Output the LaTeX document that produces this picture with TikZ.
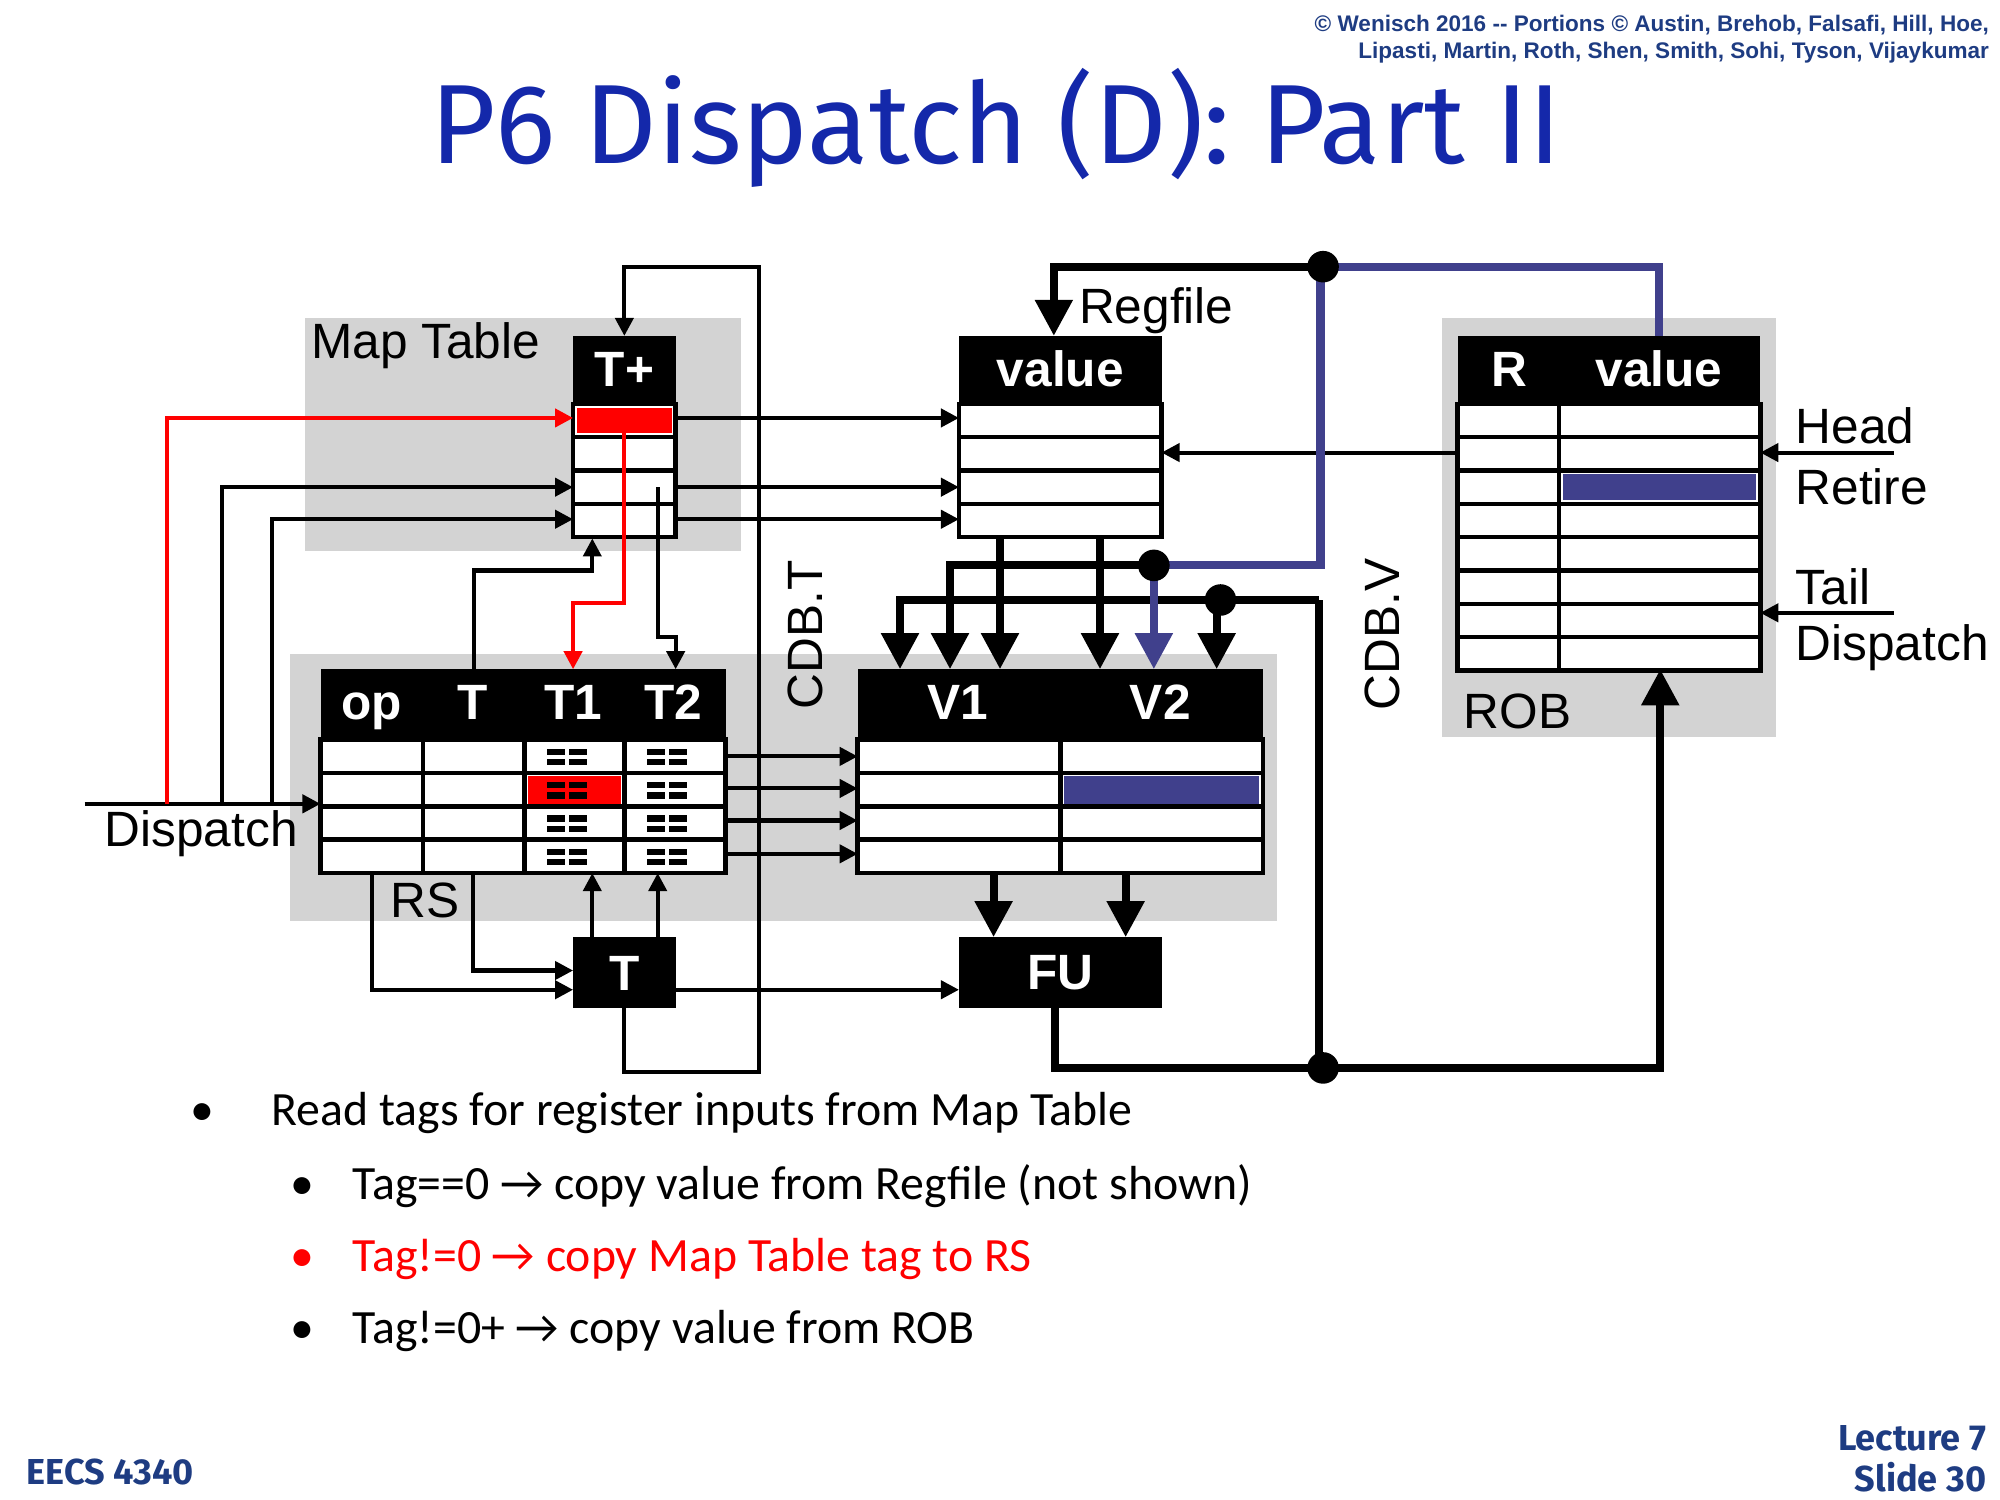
\documentclass[tikz,border=0pt]{standalone}
\usepackage{fontspec}
\setmainfont{Liberation Sans}
\newfontfamily\calfnt{Carlito}
\newfontfamily\ttlfnt{Fira Sans}
\usetikzlibrary{arrows.meta}
\definecolor{gr}{RGB}{211,211,211}
\definecolor{bl}{RGB}{64,64,140}
\definecolor{tb}{RGB}{20,40,170}
\definecolor{ft}{RGB}{30,60,130}
\begin{document}
\begin{tikzpicture}[x=0.01cm,y=-0.01cm,
 tn/.style={line width=0.9pt},
 thk/.style={line width=1.8pt},
 ta/.style={tn,-{Triangle[width=4pt,length=4pt]}},
 ka/.style={thk,-{Triangle[width=8pt,length=8pt]}},
 hdr/.style={text=white,font=\bfseries\fontsize{11}{11}\selectfont,inner sep=0},
 cell/.style={fill=white,draw=black,line width=1pt},
 lbl/.style={font=\fontsize{11}{11}\selectfont,inner sep=0},
 dot/.style={circle,fill=black,inner sep=0,minimum size=7pt}]
\useasboundingbox (0,0) rectangle (1560,1170);
% header texts
\node[anchor=north east,align=right,text=ft,font=\bfseries\fontsize{5}{6}\selectfont,inner sep=0] (copy) at (1552,11) {\textcopyright\ Wenisch 2016 -{}- Portions \textcopyright\ Austin, Brehob, Falsafi, Hill, Hoe,\\ Lipasti, Martin, Roth, Shen, Smith, Sohi, Tyson, Vijaykumar};
\node[text=tb,font=\ttlfnt\fontsize{25}{25}\selectfont] (title) at (777,100) {P6 Dispatch (D): Part II};
% gray regions
\fill[gr] (238,248) rectangle (578,430);
\fill[gr] (1125,248) rectangle (1385,575);
\fill[gr] (226,510) rectangle (996,718);
\node[lbl,anchor=west] (mtl) at (242,270) {Map Table};
\node[lbl,anchor=west] (rgl) at (841,242) {Regfile};
\node[lbl,anchor=west] (robl) at (1141,555) {ROB};
\node[lbl,anchor=west] (rsl) at (304,702) {RS};
\node[lbl,anchor=west] (dl) at (81,650) {Dispatch};
\node[lbl,anchor=west] (hl) at (1400,332) {Head};
\node[lbl,anchor=west] (rl) at (1400,380) {Retire};
\node[lbl,anchor=west] (tl) at (1400,458) {Tail};
\node[lbl,anchor=west] (dl2) at (1400,505) {Dispatch};
\node[lbl,rotate=90] (cdbt) at (628,495) {CDB.T};
\node[lbl,rotate=90] (cdbv) at (1078,495) {CDB.V};
\coordinate (tl1) at (487,836); \coordinate (tl2) at (592,836);
\coordinate (tl3) at (592,208); \coordinate (tl4) at (487,208);
% T+ table
\foreach \y in {315,341,367,393} \draw[cell] (447,\y) rectangle (527,\y+26);
\fill[red] (450,318) rectangle (524,338);
\fill[black] (447,262) rectangle (527,315);
\node[hdr] (tpl) at (487,288) {T+};
% Regfile
\foreach \y in {315,341,367,393} \draw[cell] (748,\y) rectangle (906,\y+26);
\fill[black] (748,262) rectangle (906,315);
\node[hdr] (rv) at (827,288) {value};
% ROB
\foreach \y in {315,341,...,497} {\draw[cell] (1137,\y) rectangle (1216,\y+26); \draw[cell] (1216,\y) rectangle (1373,\y+26);}
\fill[bl] (1219,370) rectangle (1370,390);
\fill[black] (1137,262) rectangle (1373,315);
\node[hdr] (rr) at (1177,288) {R};
\node[hdr] (rvv) at (1294,288) {value};
% RS
\foreach \y in {577,603,629,655} \foreach \x/\w in {250/80,330/79,409/78,487/79} \draw[cell] (\x,\y) rectangle (\x+\w,\y+26);
\fill[red] (412,605) rectangle (484,627);
\foreach \y in {577,603,629,655} \foreach \x in {427,505}{
 \fill (\x,\y+7) rectangle +(14,5); \fill (\x+17,\y+7) rectangle +(14,5);
 \fill (\x,\y+15) rectangle +(14,5); \fill (\x+17,\y+15) rectangle +(14,5);}
\fill[black] (250,522) rectangle (566,577);
\node[hdr,anchor=base] (hop) at (290,561) {op};
\node[hdr,anchor=base] (ht) at (369,561) {T};
\node[hdr,anchor=base] (ht1) at (447,561) {T1};
\node[hdr,anchor=base] (ht2) at (525,561) {T2};
% V table
\foreach \y in {577,603,629,655} {\draw[cell] (669,\y) rectangle (827,\y+26); \draw[cell] (827,\y) rectangle (985,\y+26);}
\fill[bl] (830,605) rectangle (982,627);
\fill[black] (669,522) rectangle (985,577);
\node[hdr,anchor=base] (hv1) at (747,561) {V1};
\node[hdr,anchor=base] (hv2) at (905,561) {V2};
% T and FU boxes
\fill[black] (447,731) rectangle (527,786);
\node[hdr] (tbox) at (487,759) {T};
\fill[black] (748,731) rectangle (906,786);
\node[hdr] (fu) at (827,759) {FU};
% connectors
\draw[ta] (487,786) -- (tl1) -- (tl2) -- (tl3) -- (tl4) -- (487,262);
\draw[ta] (66,627) -- (250,627);
\draw[ta,red] (130,627) |- (447,326);
\draw[ta,red] (487,328) -- (487,470) -| (447,522);
\draw[ta] (173,627) |- (447,380);
\draw[ta] (212,627) |- (447,405);
\draw[ta] (370,522) |- (462,445) -- (462,420);
\draw[ta] (513,380) |- (527,497) -- (527,522);
\draw[ta] (527,326) -- (748,326);
\draw[ta] (527,380) -- (748,380);
\draw[ta] (527,405) -- (748,405);
\draw[ta] (1137,353) -- (906,353);
\draw[ta] (1477,353) -- (1373,353);
\draw[ta] (1477,478) -- (1373,478);
\foreach \y in {590,615,640,666} \draw[ta] (566,\y) -- (669,\y);
\draw[ta] (290,681) |- (447,772);
\draw[ta] (369,681) |- (447,757);
\draw[ta] (462,731) -- (462,681);
\draw[ta] (513,731) -- (513,681);
\draw[ta] (527,772) -- (748,772);
% thick buses
\draw[ka] (780,420) -- (780,522);
\draw[ka] (858,420) -- (858,522);
\draw[ka] (897,441) -| (741,522);
\draw[thk] (1029,833) -- (1029,468);
\draw[ka] (1029,468) -| (702,522);
\draw[ka] (949,468) -- (949,522);
\draw[ka] (823,786) |- (1295,833) -- (1295,522);
\draw[ka] (1032,208) -| (822,262);
\draw[ka] (775,681) -- (775,731);
\draw[ka] (878,681) -- (878,731);
\draw[line width=1.8pt,bl,-{Triangle[width=8pt,length=8pt]}] (1294,262) |- (1030,208) |- (900,441) -- (900,522);
\node[dot] (d1) at (1032,208) {};
\node[dot] (d2) at (900,441) {};
\node[dot] (d3) at (952,468) {};
\node[dot] (d4) at (1032,833) {};
% bullets
\begin{scope}[every node/.style={anchor=west,inner sep=0,font=\calfnt\fontsize{10.6}{10.6}\selectfont}]
\node (b1) at (148,868) {\textbullet\hspace{1.2em}Read tags for register inputs from Map Table};
\node (b2) at (226,925) {\textbullet\hspace{0.8em}Tag==0 \symbol{"2192} copy value from Regfile (not shown)};
\node[text=red] (b3) at (226,982) {\textbullet\hspace{0.8em}Tag!=0 \symbol{"2192} copy Map Table tag to RS};
\node (b4) at (226,1038) {\textbullet\hspace{0.8em}Tag!=0+ \symbol{"2192} copy value from ROB};
\end{scope}
\node[anchor=west,text=ft,font=\ttlfnt\bfseries\fontsize{8}{8}\selectfont,inner sep=0] (ee) at (20,1148) {EECS 4340};
\node[anchor=east,align=right,text=ft,font=\ttlfnt\bfseries\fontsize{8}{9}\selectfont,inner sep=0] (ls) at (1550,1138) {Lecture 7\\Slide 30};
\end{tikzpicture}
\end{document}
